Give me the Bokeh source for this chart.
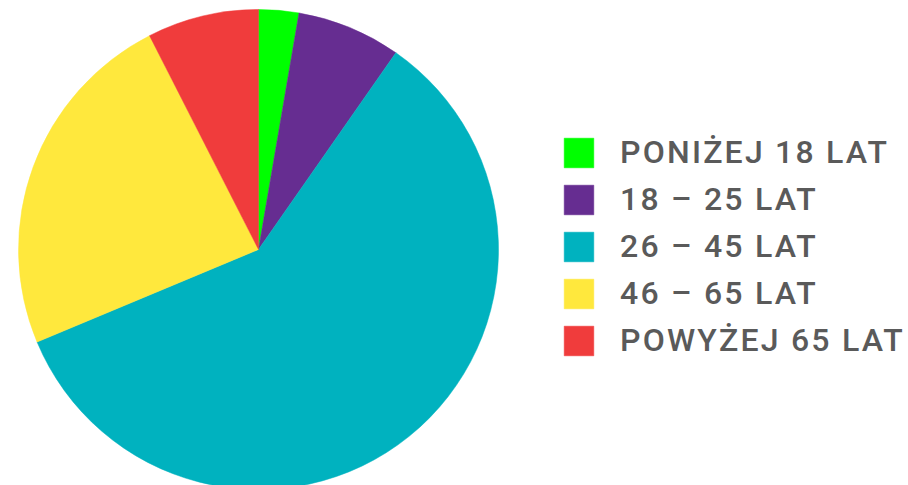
import math
from bokeh.plotting import figure
from bokeh.models import ColumnDataSource, Legend, LegendItem
from bokeh.embed import file_html
from bokeh.resources import INLINE

categories = ["PONIŻEJ 18 LAT", "18 – 25 LAT", "26 – 45 LAT", "46 – 65 LAT", "POWYŻEJ 65 LAT"]
shares = [2.7, 7.0, 59.0, 23.8, 7.5]
colors = ["#00FF00", "#662D91", "#00B2BF", "#FFE83D", "#F03C3C"]

W, H = 908, 485
total = sum(shares)
starts, ends = [], []
cum = 0.0
for v in shares:
    starts.append(math.pi / 2 - 2 * math.pi * cum / total)
    cum += v
    ends.append(math.pi / 2 - 2 * math.pi * cum / total)

src = ColumnDataSource(dict(cat=categories, val=shares, color=colors,
                            start=starts, end=ends))

p = figure(width=W, height=H, x_range=(0, W), y_range=(0, H),
           output_backend="svg", toolbar_location=None,
           min_border=0, min_border_left=0, min_border_right=0,
           min_border_top=0, min_border_bottom=0)
p.axis.visible = False
p.grid.visible = False
p.outline_line_color = None
p.styles = {"letter-spacing": "2.2px"}

cx, cy, r = 258, 236, 240
wr = p.wedge(x=cx, y=cy, radius=r, start_angle="start", end_angle="end",
             direction="clock", fill_color="color", line_color="color",
             line_width=0.5, source=src)

items = [LegendItem(label=c, renderers=[wr], index=i) for i, c in enumerate(categories)]
legend = Legend(items=items, location=(560, 126), orientation="vertical",
                glyph_width=37, glyph_height=37, label_height=37,
                spacing=9, label_standoff=23, padding=0, margin=0,
                border_line_color=None, background_fill_alpha=0,
                label_text_font="'Roboto Medium', Roboto",
                label_text_font_size="32px",
                label_text_font_style="normal", label_text_color="#5a5a5a",
                label_text_baseline="middle")
p.add_layout(legend, "center")

open("out.html", "w").write(file_html(p, INLINE))
